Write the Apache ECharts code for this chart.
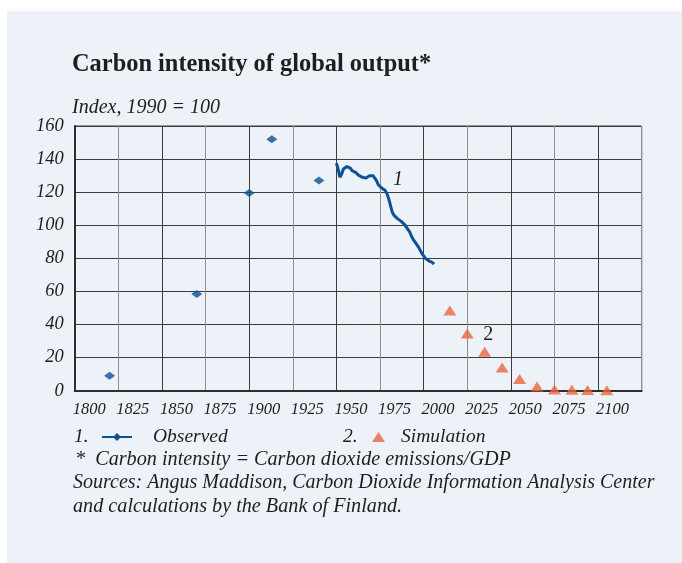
<!DOCTYPE html>
<html>
<head>
<meta charset="utf-8">
<script src="https://cdn.jsdelivr.net/npm/echarts@6/dist/echarts.min.js"></script>
<style>
  html, body { margin: 0; padding: 0; background: #ffffff; }
  #wrap { position: relative; width: 682px; height: 563px; overflow: hidden; }
  #panel { position: absolute; left: 7px; top: 11px; width: 675px; height: 552px; background: #edf1f8; }
  #chart { position: absolute; left: 0; top: 0; width: 682px; height: 563px; }
</style>
</head>
<body>
<div id="wrap"><div id="panel"></div><div id="chart"></div></div>
<script>
// ---- Data ----
const observedYears = [1820, 1870, 1900, 1913, 1940];
const observedValues = [9, 58.5, 119.5, 152, 127];

const lineYears = [1950,1951,1952,1953,1954,1955,1956,1957,1958,1959,
                   1960,1961,1962,1963,1964,1965,1966,1967,1968,1969,
                   1970,1971,1972,1973,1974,1975,1976,1977,1978,1979,
                   1980,1981,1982,1983,1984,1985,1986,1987,1988,1989,
                   1990,1991,1992,1993,1994,1995,1996,1997,1998,1999,
                   2000,2001,2002,2003,2004,2005,2006];
const lineValues = [137.5,134,129,131,134,135,135.5,135,134.5,133,
                    134,132,131,130,129.5,129,128.5,128.5,128.5,130,
                    130.5,130,128.5,127,124.5,123.5,122.5,122,121,119,
                    116,112,108,106,105,104,103.5,102.5,101.5,100.5,
                    99.5,97.5,96,93.5,91.5,90,89,87,85,83,
                    81.5,80,79,78.5,78.5,77.5,76.5];

const simYears = [2015, 2025, 2035, 2045, 2055, 2065, 2075, 2085, 2094, 2105];
const simValues = [48.5, 34.5, 23.5, 14, 7, 2.5, 0.8, 0.5, 0.4, 0.3];

const annotationLabels = ['1', '2'];
const annotationYears = [1985.3, 2037.1];
const annotationValues = [127.8, 33.7];

const xTicks = [1800, 1825, 1850, 1875, 1900, 1925, 1950, 1975, 2000, 2025, 2050, 2075, 2100];
const yTicks = [0, 20, 40, 60, 80, 100, 120, 140, 160];

const titleText = 'Carbon intensity of global output*';
const unitText = 'Index, 1990 = 100';
const legendNames = ['Observed', 'Simulation'];
const footnotes = [
  '*  Carbon intensity = Carbon dioxide emissions/GDP',
  'Sources: Angus Maddison, Carbon Dioxide Information Analysis Center',
  'and calculations by the Bank of Finland.'
];

// ---- Styles ----
const SERIF = '"Liberation Serif", "Times New Roman", serif';
const TXT = '#1e1e1e';
const BLUE = '#0c5195';
const ORANGE = '#e8683f';

const chart = echarts.init(document.getElementById('chart'), null, { renderer: 'canvas' });

const pairs = (xs, ys) => xs.map((x, i) => [x, ys[i]]);

const option = {
  animation: false,
  backgroundColor: 'transparent',
  grid: {
    left: 74.7, right: 40.3, top: 126, bottom: 172.3,
    show: true, borderColor: '#3d3d3d', borderWidth: 1, backgroundColor: 'transparent'
  },
  xAxis: {
    type: 'value',
    min: xTicks[0], max: 2125, interval: 25,
    axisLine: { show: true, onZero: false, lineStyle: { color: '#2e2e2e', width: 2 } },
    axisTick: { show: false },
    splitLine: { show: true, lineStyle: { color: ['#3d3d3d', '#8e8e8e'], width: 1 } },
    axisLabel: {
      show: true, showMaxLabel: false, align: 'left', margin: 10,
      padding: [0, 0, 0, -2],
      fontFamily: SERIF, fontStyle: 'italic', fontSize: 16.5, color: TXT,
      formatter: v => (xTicks.indexOf(v) >= 0 ? String(v) : '')
    }
  },
  yAxis: {
    type: 'value',
    min: yTicks[0], max: yTicks[yTicks.length - 1], interval: 20,
    axisLine: { show: true, onZero: false, lineStyle: { color: '#2e2e2e', width: 2 } },
    axisTick: { show: false },
    splitLine: { show: true, lineStyle: { color: '#3d3d3d', width: 1 } },
    axisLabel: {
      margin: 11, fontFamily: SERIF, fontStyle: 'italic', fontSize: 18.5, color: TXT
    }
  },
  legend: [
    {
      data: [legendNames[0]], left: 101, top: 427, padding: 0,
      itemWidth: 30, itemHeight: 10, selectedMode: false,
      textStyle: { fontFamily: SERIF, fontStyle: 'italic', fontSize: 19.5, color: TXT, padding: [0, 0, 0, 16] }
    },
    {
      data: [legendNames[1]], left: 372, top: 427, padding: 0,
      itemWidth: 13, itemHeight: 10, selectedMode: false,
      textStyle: { fontFamily: SERIF, fontStyle: 'italic', fontSize: 19.5, color: TXT, padding: [0, 0, 0, 11] }
    }
  ],
  graphic: [
    { type: 'text', left: 72, top: 52.5, style: { text: titleText, font: 'bold 24.4px ' + SERIF, fill: TXT } },
    { type: 'text', left: 72, top: 97.5, style: { text: unitText, font: 'italic 20px ' + SERIF, fill: TXT } },
    { type: 'text', left: 74, top: 427, style: { text: '1.', font: 'italic 19.5px ' + SERIF, fill: TXT } },
    { type: 'text', left: 343, top: 427, style: { text: '2.', font: 'italic 19.5px ' + SERIF, fill: TXT } },
    { type: 'text', left: 75, top: 449.5, style: { text: footnotes[0], font: 'italic 20.2px ' + SERIF, fill: TXT } },
    { type: 'text', left: 73, top: 472.8, style: { text: footnotes[1], font: 'italic 20px ' + SERIF, fill: TXT } },
    { type: 'text', left: 73, top: 496.2, style: { text: footnotes[2], font: 'italic 20.2px ' + SERIF, fill: TXT } }
  ],
  series: [
    {
      name: legendNames[0], type: 'line',
      data: pairs(lineYears, lineValues),
      showSymbol: false, symbol: 'diamond', symbolSize: [11, 8],
      lineStyle: { color: BLUE, width: 3 }, itemStyle: { color: BLUE },
      z: 3,
      markPoint: {
        symbol: 'circle', symbolSize: 0, silent: true,
        label: { show: true, position: 'inside', fontFamily: SERIF, fontStyle: 'italic', fontSize: 20, color: TXT,
                 formatter: p => p.name },
        data: [{ name: annotationLabels[0], coord: [annotationYears[0], annotationValues[0]] }]
      }
    },
    {
      name: legendNames[0], type: 'scatter',
      data: pairs(observedYears, observedValues),
      symbol: 'diamond', symbolSize: [11, 8],
      itemStyle: { color: BLUE }, z: 3
    },
    {
      name: legendNames[1], type: 'scatter',
      data: pairs(simYears, simValues),
      symbol: 'triangle', symbolSize: [13, 10],
      itemStyle: { color: ORANGE }, z: 3,
      markPoint: {
        symbol: 'circle', symbolSize: 0, silent: true,
        label: { show: true, position: 'inside', fontFamily: SERIF, fontSize: 20, color: TXT,
                 formatter: p => p.name },
        data: [{ name: annotationLabels[1], coord: [annotationYears[1], annotationValues[1]] }]
      }
    }
  ]
};

chart.setOption(option);
</script>
</body>
</html>
